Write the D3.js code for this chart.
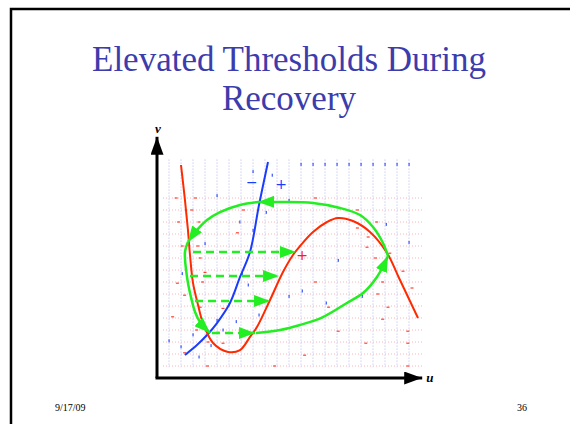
<!DOCTYPE html>
<html lang="en">
<head><meta charset="utf-8">
<title>Elevated Thresholds During Recovery</title>
<style>
body { margin: 0; background: #fff; }
</style>
</head>
<body>
<svg id="slide"></svg>
<script src="https://cdn.jsdelivr.net/npm/d3@7"></script>
<script>

var width = 570, height = 424;
var serif = "Liberation Serif";

var titleLines = ["Elevated Thresholds During", "Recovery"];

// grid units: u = column index, v = row index
var gridCols = d3.range(0, 21);
var gridRows = d3.range(0, 15);

// u-nullcline (cubic, red)
var cubicNull = [[1.00,16.75],[1.33,13.83],[1.58,11.33],[1.75,9.25],[2.00,6.92],[2.42,5.08],[2.83,3.58],
  [3.67,1.92],[4.92,1.17],[5.92,1.33],[6.75,2.42],[7.33,3.25],[8.42,5.5],[9.5,7.83],[10.33,9.25],
  [10.92,10],[12,11.17],[13.17,12],[14.08,12.33],[15.33,12.08],[16.75,11.17],[18.17,9.42],[19.17,7.33],[20.75,4]];

// v-nullcline (blue)
var recoveryNull = [[1.33,0.92],[2.33,1.75],[3.17,2.58],[4,3.58],[5.08,5.25],[5.92,7.42],[6.75,9.5],[7.5,13.42],[8.25,17]];

// trajectory, split at the arrowheads
var trajectory = [
  [[7.25,2.75],[9.25,3],[10.92,3.42],[12.83,4.08],[14.83,5.25],[16.17,6.08],[17.33,7.42],[18.25,9.17]],
  [[18.25,9.17],[17.83,10.25],[17,11.58],[15.92,12.58],[14.25,13.17],[12,13.58],[9.25,13.67],[7.42,13.67]],
  [[7.42,13.67],[5.92,13.42],[4.25,12.83],[3.17,12.17],[2.33,11.33],[1.58,10.33]],
  [[1.58,10.33],[1.33,9.5],[1.5,7.42],[1.75,6.08],[2.17,4.5],[2.58,3.67],[3.42,2.75]]
];

// dashed jumps: [v, u start, u end]
var jumps = [[9.5,2,10.58],[7.5,1.75,9.17],[5.42,2.17,8.42],[2.75,3.58,7.17]];

// direction-field marks
var redMarks = [[0.6,14],[2.2,14],[12.2,14],[1.9,13],[6.2,13],[15.7,13],[0.8,12],[2.5,12],[17.3,12],
  [5.7,11.1],[15.7,11.5],[16.6,10.75],[1.1,10],[2.4,10],[16.5,9.9],[2.6,9],[18.4,9.4],[17.2,9],
  [19.5,7.9],[3,7.8],[0.7,6.9],[2.8,7],[12.2,7],[17.8,7],[20.25,6.5],[1.3,5.9],[17.4,6],[2.6,4.9],
  [4.5,4.8],[13.3,4.9],[18.25,4.9],[0.3,4.1],[17.8,3.9],[2.3,3],[4.1,2.8],[14.1,2.9],[19.9,2.9],
  [3.25,2],[4.5,1.9],[16.4,1.9],[19.9,1.9],[1.3,1.1],[11.3,0.9],[3.2,0],[8.8,0],[19.9,0]];
var blueMarks = [[7,16.2],[8.6,15.9],[4,14.2],[10,13.8],[8.1,12.8],[5.9,12],[7,11.3],[3,10.2],
  [18.1,11.8],[20,10.3],[14.1,8.8],[1.1,7.7],[6.1,7.7],[6.6,6.75],[5,5.1],[10,5.8],[11.1,6.25],
  [13.1,5.25],[16.1,5.8],[5.6,3.7],[4,3.8],[7.5,4.25],[4.5,3],[2,2.6],[0,2.1],[1,1.6],[3.5,1.7],[2.5,0.75],
  [11,16.8],[12,16.8],[13,16.8],[14,16.8],[15,16.8],[16,16.8],[17,16.8],[18,16.8],[19,16.8],[20,16.8]];

var signs = [{u:11.1, v:9.25, t:"+", c:"#ff2200"}, {u:6.9, v:15.3, t:"\u2212", c:"#1a3cff"}, {u:9.35, v:15.2, t:"+", c:"#1a3cff"}];

var x = d3.scaleLinear().domain([0, 20]).range([169, 409]);
var y = d3.scaleLinear().domain([0, 14]).range([366, 198]);

var svg = d3.select("#slide").attr("width", width).attr("height", height);

// slide frame
svg.append("rect").attr("x", 11).attr("y", 9).attr("width", 600).attr("height", 500)
    .attr("fill", "none").attr("stroke", "#000").attr("stroke-width", 2.5);

// title, two centred lines
svg.append("g").selectAll("text").data(titleLines).enter().append("text")
    .attr("x", 289).attr("y", (d, i) => i ? 110 : 71).attr("text-anchor", "middle")
    .attr("font-family", serif).attr("font-size", 35).attr("fill", "#3c3cac").text(d => d);

svg.append("text").attr("x", 55).attr("y", 411).attr("font-family", serif).attr("font-size", 10).text("9/17/09");
svg.append("text").attr("x", 527).attr("y", 411).attr("font-family", serif).attr("font-size", 10)
    .attr("text-anchor", "end").text("36");

var defs = svg.append("defs");
function marker(id, color, len, wid) {
  defs.append("marker").attr("id", id).attr("markerUnits", "userSpaceOnUse")
      .attr("viewBox", "0 0 " + len + " " + wid).attr("refX", len).attr("refY", wid / 2)
      .attr("markerWidth", len).attr("markerHeight", wid).attr("orient", "auto")
    .append("path").attr("d", "M0,0L" + len + "," + (wid / 2) + "L0," + wid + "Z").attr("fill", color);
}
marker("axHead", "#000", 18, 13);
marker("grHead", "#22ee22", 16, 12);

// grid
var grid = svg.append("g");
grid.selectAll(".vl").data(gridCols).enter().append("line")
    .attr("x1", d => x(d)).attr("x2", d => x(d))
    .attr("y1", y(17.2)).attr("y2", y(-0.1))
    .attr("stroke", "#b4b4ee").attr("stroke-width", 1).attr("stroke-dasharray", "1,2");
grid.selectAll(".hl").data(gridRows).enter().append("line")
    .attr("x1", x(-0.5)).attr("x2", x(21.2))
    .attr("y1", d => y(d)).attr("y2", d => y(d))
    .attr("stroke", "#ffb4b4").attr("stroke-width", 1).attr("stroke-dasharray", "1,2");

svg.append("g").selectAll("rect").data(redMarks).enter().append("rect")
    .attr("x", d => x(d[0]) - 1.5).attr("y", d => y(d[1]) - 0.6)
    .attr("width", 3).attr("height", 1.2).attr("fill", "#ff4030");
svg.append("g").selectAll("rect").data(blueMarks).enter().append("rect")
    .attr("x", d => x(d[0]) - 0.5).attr("y", d => y(d[1]) - 1.5)
    .attr("width", 1.1).attr("height", 3).attr("fill", "#2244ff");

// axes
var axes = svg.append("g").attr("stroke", "#000").attr("stroke-width", 3);
axes.append("line").attr("x1", x(-1)).attr("y1", y(-1)).attr("x2", x(-1)).attr("y2", y(19.1))
    .attr("marker-end", "url(#axHead)");
axes.append("line").attr("x1", x(-1) - 1.5).attr("y1", y(-1)).attr("x2", x(21.1)).attr("y2", y(-1))
    .attr("marker-end", "url(#axHead)");
svg.append("text").attr("x", x(-1) + 1).attr("y", y(19.1) - 4).attr("text-anchor", "middle").attr("font-family", serif)
    .attr("font-size", 13).attr("font-style", "italic").attr("font-weight", "bold").text("v");
svg.append("text").attr("x", x(21.1) + 4).attr("y", y(-1) + 4).attr("font-family", serif)
    .attr("font-size", 13).attr("font-style", "italic").attr("font-weight", "bold").text("u");

var line = d3.line().x(d => x(d[0])).y(d => y(d[1])).curve(d3.curveCatmullRom);

svg.append("path").datum(recoveryNull).attr("d", line)
    .attr("fill", "none").attr("stroke", "#1a3cff").attr("stroke-width", 2);
svg.append("path").datum(cubicNull).attr("d", line)
    .attr("fill", "none").attr("stroke", "#ff2a00").attr("stroke-width", 2);

svg.append("g").selectAll("path").data(trajectory).enter().append("path")
    .attr("d", line).attr("fill", "none").attr("stroke", "#22ee22").attr("stroke-width", 2.5)
    .attr("marker-end", "url(#grHead)");

svg.append("g").selectAll("line").data(jumps).enter().append("line")
    .attr("x1", d => x(d[1])).attr("x2", d => x(d[2]))
    .attr("y1", d => y(d[0])).attr("y2", d => y(d[0]))
    .attr("stroke", "#22ee22").attr("stroke-width", 2.5).attr("stroke-dasharray", "8,5")
    .attr("marker-end", "url(#grHead)");

svg.append("g").selectAll("text").data(signs).enter().append("text")
    .attr("x", d => x(d.u)).attr("y", d => y(d.v) + 5).attr("text-anchor", "middle")
    .attr("font-family", "DejaVu Sans").attr("font-size", 14).attr("fill", d => d.c).text(d => d.t);

</script>
</body>
</html>
